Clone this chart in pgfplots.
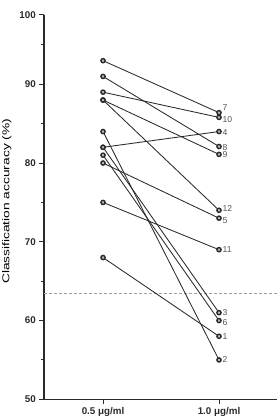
\documentclass[border=0pt]{standalone}
\usepackage{pgfplots}
\pgfplotsset{compat=1.18}
\usepackage{fontspec}
\setmainfont{Liberation Sans}
\definecolor{ln}{HTML}{2A2A2A}
\definecolor{lab}{HTML}{555555}
\definecolor{refgray}{HTML}{A0A0A0}
\pgfplotsset{subj/.style={line width=0.85bp, color=ln, mark=*, mark size=2.1bp,
     mark options={fill=gray!55, draw=ln, line width=1.4bp, solid}}}
\begin{document}
\begin{tikzpicture}
\useasboundingbox (-44bp,-19.7bp) rectangle (236bp,399.3bp);
\begin{axis}[
  at={(0,0)}, anchor=south west,
  scale only axis,
  width=233bp, height=384.3bp,
  xmin=-0.509, xmax=1.5,
  ymin=50, ymax=98.8,
  axis lines=left,
  axis line style={-, line width=1.1bp, color=ln},
  tick align=outside,
  major tick length=4.7bp,
  minor tick length=2.7bp,
  tick style={line width=1bp, color=ln},
  xtick={0,1},
  xticklabels={0.5 μg/ml, 1.0 μg/ml},
  ytick={50,60,70,80,90,98.8},
  yticklabels={50,60,70,80,90,100},
  minor ytick={55,65,75,85,95},
  /pgf/number format/assume math mode=true,
  ticklabel style={font=\fontsize{9.8bp}{11bp}\selectfont\bfseries, color=ln},
  ylabel={\scalebox{1.38}[1]{Classification accuracy (\%)}},
  ylabel style={font=\fontsize{9.6bp}{11bp}\selectfont, color=ln},
  every axis y label/.style={at={(axis description cs:-0.16,0.515)}, rotate=90, anchor=center},
  clip=false,
]
\addplot[color=refgray, line width=0.9bp, dash pattern=on 3bp off 2bp, mark=none] coordinates {(-0.509,63.5) (1.5,63.5)};
% subjects
\addplot[subj] coordinates {(0,68) (1,58)};    % 1
\addplot[subj] coordinates {(0,84) (1,55)};    % 2
\addplot[subj] coordinates {(0,82) (1,61)};    % 3
\addplot[subj] coordinates {(0,82) (1,84)};    % 4
\addplot[subj] coordinates {(0,80) (1,73)};    % 5
\addplot[subj] coordinates {(0,81) (1,60)};    % 6
\addplot[subj] coordinates {(0,93) (1,86.4)};  % 7
\addplot[subj] coordinates {(0,91) (1,82.1)};  % 8
\addplot[subj] coordinates {(0,88) (1,81.1)};  % 9
\addplot[subj] coordinates {(0,89) (1,85.8)};  % 10
\addplot[subj] coordinates {(0,75) (1,69)};    % 11
\addplot[subj] coordinates {(0,88) (1,74)};    % 12
% labels
\begin{scope}[every node/.style={anchor=west, inner sep=0pt, text=lab, font=\fontsize{8.6bp}{9bp}\selectfont}]
\node at (axis cs:1.03,87.0) {7};
\node at (axis cs:1.03,85.5) {10};
\node at (axis cs:1.03,83.9) {4};
\node at (axis cs:1.03,82.0) {8};
\node at (axis cs:1.03,81.1) {9};
\node at (axis cs:1.03,74.2) {12};
\node at (axis cs:1.03,72.7) {5};
\node at (axis cs:1.03,69.0) {11};
\node at (axis cs:1.03,61.0) {3};
\node at (axis cs:1.03,59.8) {6};
\node at (axis cs:1.03,58.0) {1};
\node at (axis cs:1.03,55.0) {2};
\end{scope}
\end{axis}
\end{tikzpicture}
\end{document}
